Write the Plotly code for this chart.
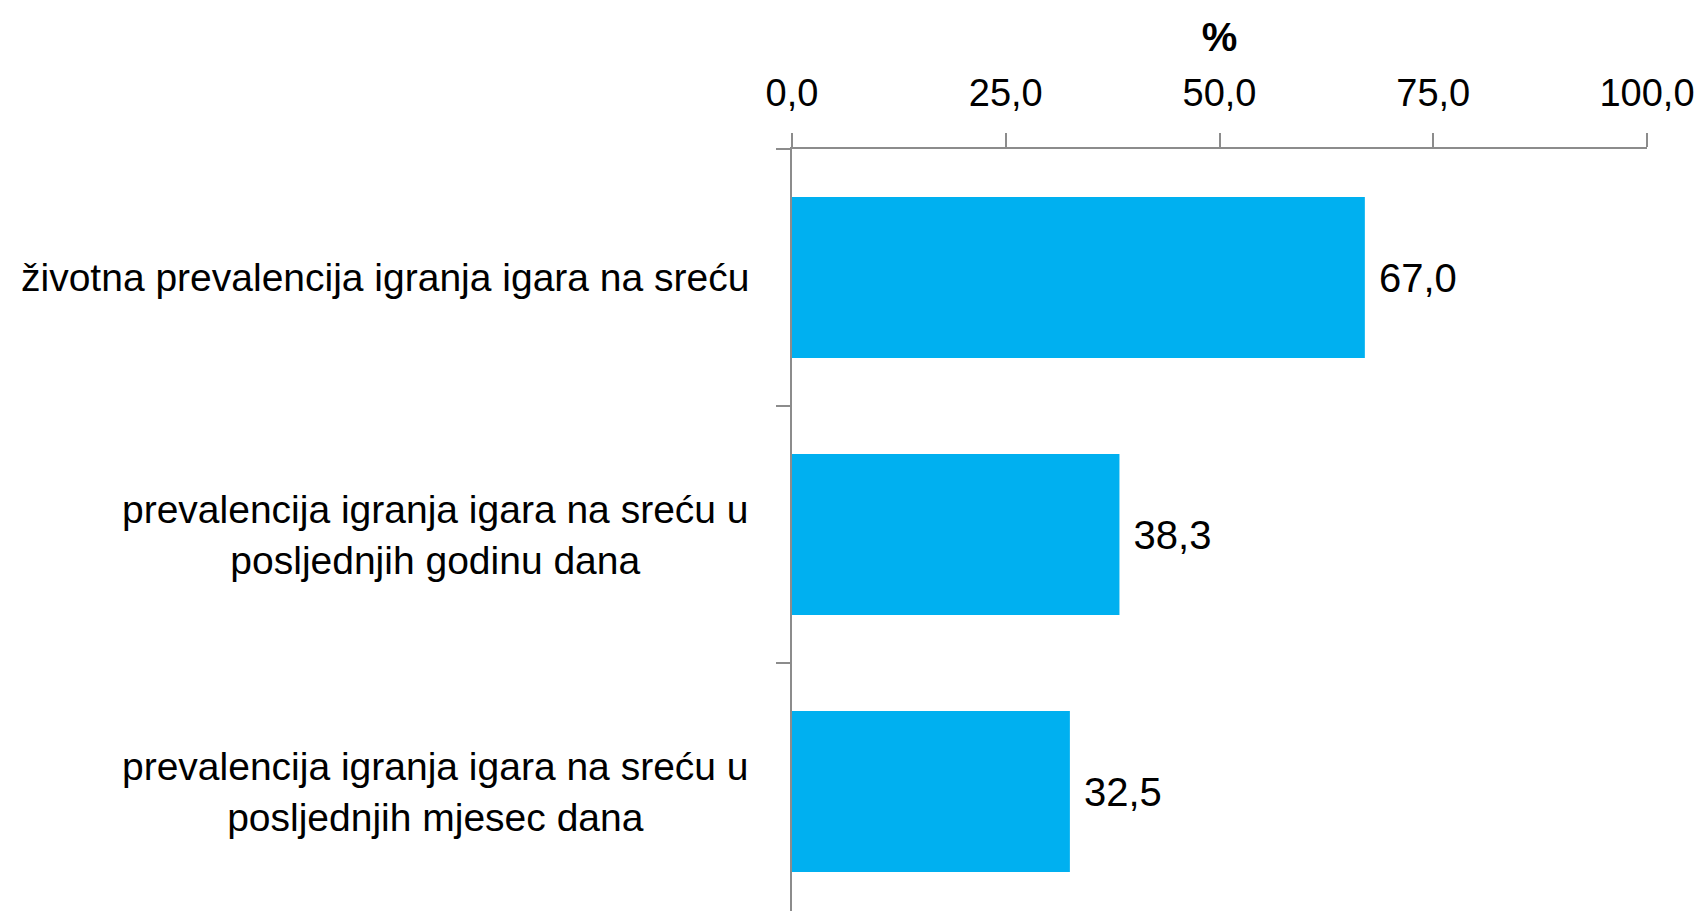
import plotly.graph_objects as go

categories = [
    "životna prevalencija igranja igara na sreću",
    "prevalencija igranja igara na sreću u<br>posljednjih godinu dana",
    "prevalencija igranja igara na sreću u<br>posljednjih mjesec dana",
]
values = [67.0, 38.3, 32.5]
tick_vals = [0, 25, 50, 75, 100]
axis_title = "%"

FONT = "Liberation Sans, Arial, sans-serif"
GRAY = "#8c8c8c"
BLUE = "#00B0F0"

fig = go.Figure()
fig.add_trace(go.Bar(
    x=values,
    y=list(range(len(categories))),
    orientation="h",
    marker=dict(color=BLUE, line=dict(width=0)),
    width=0.626,
    text=values,
    texttemplate="\u00a0%{x:.1f}",
    textposition="outside",
    textfont=dict(family=FONT, size=40, color="black"),
    cliponaxis=False,
    hoverinfo="skip",
))

for i, c in enumerate(categories):
    fig.add_annotation(
        x=-0.048, xref="paper", y=i, yref="y",
        text=c, showarrow=False, xanchor="right", yanchor="middle",
        align="center", font=dict(family=FONT, size=39, color="black"),
    )

fig.update_layout(
    width=1686, height=903,
    margin=dict(l=784, r=47, t=141, b=0),
    paper_bgcolor="white", plot_bgcolor="white",
    separators=", ",
    showlegend=False,
    font=dict(family=FONT, color="black"),
    xaxis=dict(
        side="top", range=[0, 100], tickvals=tick_vals, tickformat=".1f",
        showgrid=False, zeroline=False, showline=True, linecolor=GRAY, linewidth=1.5,
        ticks="outside", ticklen=14, tickcolor=GRAY, tickwidth=1.5,
        tickfont=dict(family=FONT, size=38, color="black"),
        ticklabelstandoff=12, ticklabeloverflow="allow",
        title=dict(text="<b>" + axis_title + "</b>", font=dict(family=FONT, size=40, color="black"), standoff=8),
    ),
    yaxis=dict(
        type="linear", range=[2.465, -0.5], tickvals=[-0.5, 0.5, 1.5, 2.5],
        showticklabels=False, showgrid=False, zeroline=False,
        showline=True, linecolor=GRAY, linewidth=1.5,
        ticks="outside", ticklen=14, tickcolor=GRAY, tickwidth=1.5,
    ),
)

fig.write_html("out.html")
